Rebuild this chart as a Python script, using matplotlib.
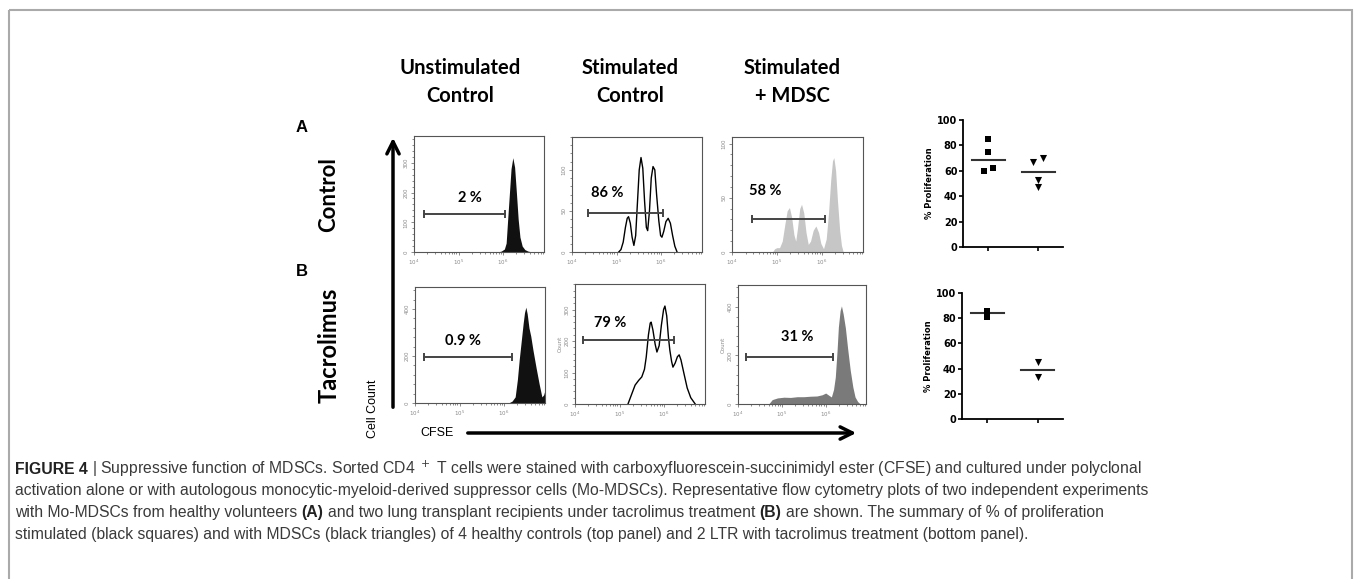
import numpy as np
import matplotlib
matplotlib.use('Agg')
import matplotlib.pyplot as plt
from matplotlib.ticker import AutoMinorLocator, FixedLocator, NullFormatter
from matplotlib.patches import Rectangle

W, H = 1355, 579

# ---- text ----
col_titles = ['Unstimulated\nControl', 'Stimulated\nControl', 'Stimulated\n+ MDSC']
row_titles = ['Control', 'Tacrolimus']
panel_letters = ['A', 'B']
gate_labels = ['2 %', '86 %', '58 %', '0.9 %', '79 %', '31 %']

# ---- flow cytometry traces: log10(CFSE) vs cell count ----
unstim_ctrl_x = [5.88, 5.96, 6.03, 6.07, 6.10, 6.14, 6.18, 6.22, 6.26, 6.30, 6.34, 6.38,
                 6.43, 6.49, 6.56, 6.65]
unstim_ctrl_y = [0, 3, 10, 30, 100, 190, 280, 317, 285, 200, 110, 50,
                 20, 8, 3, 0]

stim_ctrl_x = [5.05, 5.10, 5.15, 5.20, 5.24, 5.27, 5.31, 5.35, 5.39, 5.43, 5.47, 5.51,
               5.55, 5.59, 5.63, 5.67, 5.70, 5.74, 5.78, 5.82, 5.86, 5.90, 5.95, 5.99,
               6.02, 6.06, 6.11, 6.16, 6.21, 6.26, 6.31, 6.36]
stim_ctrl_y = [0, 3, 12, 30, 41, 43, 35, 18, 8, 20, 60, 100,
               115, 102, 62, 30, 26, 50, 90, 104, 100, 70, 38, 20,
               18, 25, 37, 41, 35, 20, 7, 0]

stim_mdsc_x = [4.90, 4.95, 5.00, 5.06, 5.12, 5.18, 5.23, 5.28, 5.33, 5.38, 5.42, 5.46,
               5.51, 5.55, 5.60, 5.65, 5.70, 5.75, 5.81, 5.87, 5.93, 5.98, 6.04, 6.10,
               6.15, 6.20, 6.24, 6.27, 6.31, 6.35, 6.40, 6.44, 6.48]
stim_mdsc_y = [0, 3, 4, 4, 10, 26, 38, 41, 32, 16, 10, 22,
               40, 44, 36, 18, 7, 10, 20, 24, 18, 8, 3, 12,
               35, 66, 84, 87, 75, 48, 20, 6, 0]

tac_unstim_x = [6.10, 6.18, 6.25, 6.30, 6.34, 6.39, 6.43, 6.46, 6.49, 6.52, 6.56, 6.60,
                6.65, 6.72, 6.79, 6.85, 6.89, 6.92]
tac_unstim_y = [0, 8, 26, 100, 183, 270, 340, 385, 408, 380, 320, 285,
                225, 150, 80, 26, 35, 55]

tac_stim_x = [5.19, 5.27, 5.35, 5.43, 5.50, 5.56, 5.60, 5.65, 5.69, 5.71, 5.75, 5.80, 5.84, 5.89, 5.94,
              5.99, 6.02, 6.06, 6.10, 6.13, 6.17, 6.20, 6.25, 6.30, 6.34, 6.38, 6.45, 6.52, 6.60, 6.70]
tac_stim_y = [0, 30, 60, 75, 86, 110, 149, 220, 257, 260, 235, 190, 165, 185, 250,
              300, 311, 280, 210, 171, 135, 117, 130, 150, 156, 140, 95, 51, 20, 0]

tac_mdsc_x = [4.70, 4.78, 4.90, 5.05, 5.20, 5.35, 5.50, 5.65, 5.80, 5.92, 6.00, 6.08, 6.13, 6.18,
              6.22, 6.26, 6.29, 6.33, 6.36, 6.40, 6.45, 6.50, 6.56, 6.62, 6.67, 6.73, 6.79]
tac_mdsc_y = [0, 18, 25, 28, 27, 30, 30, 32, 33, 38, 45, 35, 29, 60,
              111, 220, 317, 385, 404, 370, 313, 230, 140, 70, 29, 10, 0]

# gates: (low, high) in log10 CFSE, height in counts
gate_lo = [4.22, 4.36, 4.45, 4.20, 4.18, 4.18]
gate_hi = [6.05, 6.04, 6.07, 6.18, 6.22, 6.16]
gate_h = [127, 48, 30, 196, 203, 194]
label_x = [5.26, 4.79, 4.74, 5.08, 4.79, 5.35]
label_h = [183, 72, 56, 264, 257, 276]

y_max = [390, 140, 106, 494, 381, 490]
y_ticks = [[0, 100, 200, 300], [0, 50, 100], [0, 50, 100],
           [0, 200, 400], [0, 100, 200, 300], [0, 200, 400]]

# ---- % proliferation summary ----
ctrl_stim = [85, 75, 60, 62]
ctrl_mdsc = [67, 70, 53, 47]
ctrl_means = [68.5, 59]
tac_stim = [86, 81]
tac_mdsc = [45, 33]
tac_means = [84, 39]

caption = [
    [('FIGURE 4', True), ('| Suppressive function of MDSCs. Sorted CD4 $^+$ T cells were stained with '
                          'carboxyfluorescein-succinimidyl ester (CFSE) and cultured under polyclonal', False)],
    [('activation alone or with autologous monocytic-myeloid-derived suppressor cells (Mo-MDSCs). '
      'Representative flow cytometry plots of two independent experiments', False)],
    [('with Mo-MDSCs from healthy volunteers', False), ('(A)', True),
     ('and two lung transplant recipients under tacrolimus treatment', False), ('(B)', True),
     ('are shown. The summary of % of proliferation', False)],
    [('stimulated (black squares) and with MDSCs (black triangles) of 4 healthy controls (top panel) '
      'and 2 LTR with tacrolimus treatment (bottom panel).', False)],
]

fig = plt.figure(figsize=(W / 100, H / 100), dpi=100)


def px_axes(x0, y0, x1, y1):
    return fig.add_axes([x0 / W, 1 - y1 / H, (x1 - x0) / W, (y1 - y0) / H])


# overlay for frame, labels and arrows
ov = fig.add_axes([0, 0, 1, 1])
ov.set_xlim(0, W)
ov.set_ylim(H, 0)
ov.axis('off')
ov.add_patch(Rectangle((9, 10), 1343, 600, fill=False, ec='#aaaaaa', lw=1.5))

head_font = ['Lato', 'DejaVu Sans']
for cx, t in zip([460, 630, 792], col_titles):
    ov.text(cx, 82, t, ha='center', va='center', fontsize=14.5, fontweight='bold',
            family=head_font, linespacing=1.5)
for cy, t, fs in zip([195, 345], row_titles, [16, 17]):
    ov.text(329, cy, t, ha='center', va='center', rotation=90, fontsize=fs,
            fontweight='bold', family=head_font)
for cy, t in zip([128, 272], panel_letters):
    ov.text(302, cy, t, ha='center', va='center', fontsize=12, fontweight='bold',
            family=['Liberation Sans', 'DejaVu Sans'])

narrow = ['Liberation Sans', 'DejaVu Sans']
ov.annotate('', xy=(393, 135), xytext=(393, 410),
            arrowprops=dict(arrowstyle='->', lw=2.5, color='black', mutation_scale=22))
ov.annotate('', xy=(859, 433), xytext=(465, 433),
            arrowprops=dict(arrowstyle='->', lw=2.5, color='black', mutation_scale=22))
ov.text(373, 409, 'Cell Count', rotation=90, ha='center', va='center', fontsize=9, family=narrow)
ov.text(437, 433, 'CFSE', ha='center', va='center', fontsize=9, family=narrow)

# flow panels
boxes = [(414, 136, 544, 252), (572, 137, 702, 252), (732, 137, 863, 252),
         (415, 287, 545, 403), (575, 284, 705, 404), (738, 285, 866, 404)]
traces = [(unstim_ctrl_x, unstim_ctrl_y), (stim_ctrl_x, stim_ctrl_y), (stim_mdsc_x, stim_mdsc_y),
          (tac_unstim_x, tac_unstim_y), (tac_stim_x, tac_stim_y), (tac_mdsc_x, tac_mdsc_y)]
fills = ['#111111', 'white', '#c6c6c6', '#111111', 'white', '#7a7a7a']
outlined = [False, True, False, False, True, False]

for i, box in enumerate(boxes):
    ax = px_axes(*box)
    x = 10 ** np.array(traces[i][0])
    y = np.array(traces[i][1])
    ax.fill_between(x, y, color=fills[i], lw=0)
    if outlined[i]:
        ax.plot(x, y, color='black', lw=1.0)
    ax.plot([10 ** gate_lo[i], 10 ** gate_hi[i]], [gate_h[i]] * 2, color='#444444', lw=1.4,
            marker='|', markersize=6, mew=1.4)
    ax.text(10 ** label_x[i], label_h[i], gate_labels[i], ha='center', va='center',
            fontsize=10.5, fontweight='bold', family=head_font)
    ax.set_xscale('log')
    ax.set_xlim(1e4, 10 ** 6.92)
    ax.set_ylim(0, y_max[i])
    ax.xaxis.set_major_locator(FixedLocator([1e4, 1e5, 1e6]))
    ax.set_xticklabels(['10$^4$', '10$^5$', '10$^6$'])
    ax.xaxis.set_minor_formatter(NullFormatter())
    ax.set_yticks(y_ticks[i])
    ax.yaxis.set_minor_locator(AutoMinorLocator(5))
    ax.tick_params(which='both', direction='out', color='#777777', width=0.6,
                   labelsize=4, labelcolor='#888888', pad=1.5)
    ax.tick_params(which='major', length=2.5)
    ax.tick_params(which='minor', length=1.3)
    ax.tick_params(axis='y', labelrotation=90)
    for lab in ax.get_yticklabels():
        lab.set_va('center')
    for s in ax.spines.values():
        s.set_color('#555555')
        s.set_linewidth(0.8)
    if i in (4, 5):
        ax.set_ylabel('Count', fontsize=4, color='#888888', labelpad=1)

# summary dot plots
summaries = [((963, 120, 1063, 247), ctrl_stim, ctrl_mdsc, ctrl_means, [0, 0, -0.16, 0.2], [-0.2, 0.2, 0, 0]),
             ((962, 293, 1063, 419), tac_stim, tac_mdsc, tac_means, [0, 0], [0, 0])]
for box, sq, tri, means, dsq, dtri in summaries:
    ax = px_axes(*box)
    ax.scatter(1 + np.array(dsq), sq, marker='s', s=21, color='black', zorder=3, lw=0)
    ax.scatter(3 + np.array(dtri), tri, marker='v', s=26, color='black', zorder=3, lw=0)
    for xc, m in zip([1, 3], means):
        ax.plot([xc - 0.66, xc + 0.66], [m, m], color='#333333', lw=1.5)
    ax.set_xlim(0, 4)
    ax.set_ylim(0, 100)
    ax.set_xticks([1, 3])
    ax.set_xticklabels([])
    ax.set_yticks([0, 20, 40, 60, 80, 100])
    ax.spines[['top', 'right']].set_visible(False)
    for s in ('left', 'bottom'):
        ax.spines[s].set_linewidth(1.3)
    ax.tick_params(length=3, width=1.2, labelsize=7, pad=1)
    for lab in ax.get_yticklabels():
        lab.set_fontweight('bold')
    ax.set_ylabel('% Proliferation', fontsize=6, fontweight='bold', labelpad=2)

# caption
renderer = fig.canvas.get_renderer()
cap_font = ['Liberation Sans', 'DejaVu Sans']
cap_size = 11.3
probe = fig.text(0, 0, 'a a', fontsize=cap_size, family=cap_font)
w2 = probe.get_window_extent(renderer).width
probe.set_text('aa')
space_w = w2 - probe.get_window_extent(renderer).width
probe.remove()

for k, parts in enumerate(caption):
    x = 15
    y = 469 + k * 21.8
    for txt, bold in parts:
        t = fig.text(x / W, 1 - y / H, txt, fontsize=cap_size, family=cap_font,
                     fontweight='bold' if bold else 'normal', va='center',
                     color='#222222' if bold else '#3a3a3a')
        x += t.get_window_extent(renderer).width + space_w

fig.savefig('out.png', dpi=100)
